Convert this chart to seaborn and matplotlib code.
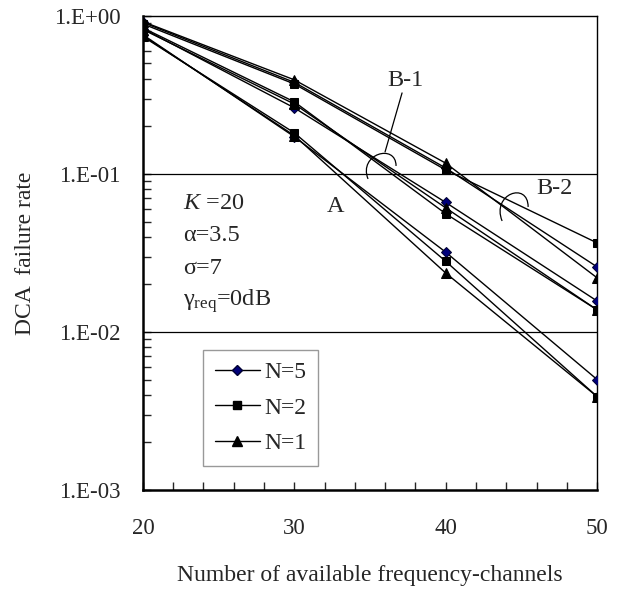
import numpy as np
import pandas as pd
import matplotlib
matplotlib.use("Agg")
import matplotlib.pyplot as plt
import matplotlib.ticker as mticker
from matplotlib.path import Path
from matplotlib.patches import PathPatch
from matplotlib.lines import Line2D
import seaborn as sns

# --------- DATA ----------
channels = [20, 30, 40, 50]

# group A (lower curves)
a_n5 = [0.76, 0.172, 0.032, 0.0050]
a_n2 = [0.74, 0.182, 0.028, 0.0039]
a_n1 = [0.75, 0.175, 0.0236, 0.0039]
# group B-1 (middle curves)
b1_n5 = [0.83, 0.262, 0.066, 0.0157]
b1_n2 = [0.84, 0.286, 0.056, 0.0138]
b1_n1 = [0.82, 0.277, 0.061, 0.0138]
# group B-2 (upper curves)
b2_n5 = [0.91, 0.380, 0.109, 0.0258]
b2_n2 = [0.89, 0.371, 0.106, 0.0366]
b2_n1 = [0.92, 0.394, 0.117, 0.0220]

legend_labels = ["N=5", "N=2", "N=1"]
y_ticks = [1e-3, 1e-2, 1e-1, 1e0]
y_tick_labels = ["1.E-03", "1.E-02", "1.E-01", "1.E+00"]
x_ticks = [20, 30, 40, 50]

# --------- STYLE ----------
sns.set_style("ticks")
plt.rcParams['font.family'] = ['Liberation Serif', 'DejaVu Serif']
plt.rcParams['mathtext.fontset'] = 'custom'
plt.rcParams['mathtext.rm'] = 'Liberation Serif'
plt.rcParams['mathtext.it'] = 'Liberation Serif:italic'

marker_style = {
    "N=5": dict(marker="D", markersize=5.5, markerfacecolor="#00007a", markeredgecolor="#000033"),
    "N=2": dict(marker="s", markersize=6, markerfacecolor="black", markeredgecolor="black"),
    "N=1": dict(marker="^", markersize=7, markerfacecolor="black", markeredgecolor="black"),
}

series = [
    ("N=5", a_n5), ("N=2", a_n2), ("N=1", a_n1),
    ("N=5", b1_n5), ("N=1", b1_n1), ("N=2", b1_n2),
    ("N=5", b2_n5), ("N=2", b2_n2), ("N=1", b2_n1),
]

fig = plt.figure(figsize=(6.24, 5.89), dpi=100)
ax = fig.add_axes([0.229, 0.168, 0.728, 0.805])

for i, (lab, vals) in enumerate(series):
    df = pd.DataFrame({"x": channels, "y": vals})
    sns.lineplot(data=df, x="x", y="y", ax=ax, color="black", linewidth=1.0,
                 legend=False, zorder=3 + i * 0.1, **marker_style[lab])

ax.set_yscale("log")
ax.set_xlim(20, 50)
ax.set_ylim(1e-3, 1e0)

# horizontal lines at decades
for yv in [1e-2, 1e-1]:
    ax.axhline(yv, color="black", linewidth=0.9, zorder=1)

ax.set_yticks(y_ticks)
ax.yaxis.set_major_formatter(mticker.FixedFormatter(y_tick_labels))
ax.yaxis.set_minor_locator(mticker.LogLocator(base=10, subs=np.arange(2, 10)))
ax.yaxis.set_minor_formatter(mticker.NullFormatter())
ax.set_xticks(x_ticks)
ax.xaxis.set_minor_locator(mticker.MultipleLocator(2))

ax.tick_params(axis="y", which="both", direction="in", length=6, width=1, pad=16, labelsize=16.5)
ax.tick_params(axis="x", which="both", direction="in", length=6, width=1, pad=20, labelsize=16.5)
ax.tick_params(which="both", right=False, top=False)

for side in ["left", "bottom"]:
    ax.spines[side].set_linewidth(1.8)
for side in ["top", "right"]:
    ax.spines[side].set_linewidth(1.0)
for sp in ax.spines.values():
    sp.set_color("black")
    sp.set_visible(True)

ax.set_xlabel("Number of available frequency-channels", fontsize=17, labelpad=19)
ax.set_ylabel("DCA  failure rate", fontsize=17, labelpad=13)

# --------- ANNOTATIONS ----------
ax.text(0.088, 0.605, "$K$ =20", transform=ax.transAxes, fontsize=17.5, va="center")
ax.text(0.088, 0.536, "α=3.5", transform=ax.transAxes, fontsize=17.5, va="center")
ax.text(0.088, 0.468, "σ=7", transform=ax.transAxes, fontsize=17.5, va="center")
ax.text(0.088, 0.398, r"γ$_{\mathrm{req}}$=0dB", transform=ax.transAxes, fontsize=17.5, va="center")

ax.text(0.423, 0.598, "A", transform=ax.transAxes, fontsize=17.5, ha="center", va="center")
ax.text(0.577, 0.864, "B-1", transform=ax.transAxes, fontsize=17.5, ha="center", va="center")
ax.text(0.907, 0.636, "B-2", transform=ax.transAxes, fontsize=17.5, ha="center", va="center")


def px(x, y):
    return ((x - 143) / 454, (490 - y) / 474)


def arc(p0, p1, p2, p3):
    verts = [px(*p0), px(*p1), px(*p2), px(*p3)]
    codes = [Path.MOVETO, Path.CURVE4, Path.CURVE4, Path.CURVE4]
    ax.add_patch(PathPatch(Path(verts, codes), facecolor="none", edgecolor="black",
                           linewidth=0.9, transform=ax.transAxes, zorder=5))


arc((368, 179), (358, 154), (396, 143), (396, 166))
arc((502, 221), (491, 194), (528, 181), (528, 207))
ax.plot(*zip(px(402, 93), px(385, 152)), color="black", linewidth=0.9,
        transform=ax.transAxes, zorder=5)

# --------- LEGEND ----------
handles = [Line2D([0], [0], color="black", linewidth=1.0, **marker_style[l]) for l in legend_labels]
leg = ax.legend(handles, legend_labels, loc="upper left", bbox_to_anchor=(0.132, 0.296),
                fontsize=17, frameon=True, fancybox=False, handlelength=1.9,
                labelspacing=0.6, borderpad=0.5, handletextpad=0.2, borderaxespad=0)
leg.get_frame().set_edgecolor("#808080")
leg.get_frame().set_linewidth(1.0)

plt.savefig("out.png", dpi=100)
